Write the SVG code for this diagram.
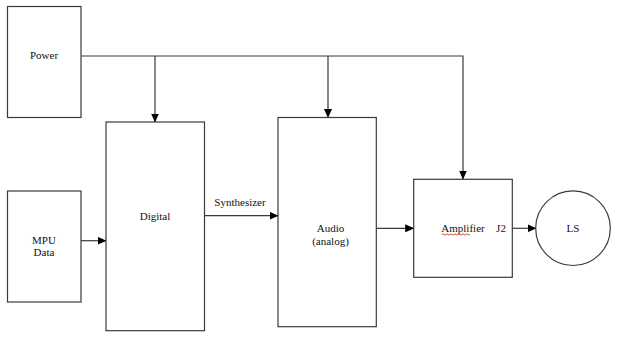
<svg xmlns="http://www.w3.org/2000/svg" width="623" height="345" viewBox="0 0 623 345">
<style>
.box{fill:#fff;stroke:#3a3a3a;stroke-width:1.2}
.ln{fill:none;stroke:#3a3a3a;stroke-width:1.2}
text{font-family:"Liberation Serif","Times New Roman",serif;font-size:11px;fill:#111;text-anchor:middle}
</style>
<defs>
<marker id="ah" markerWidth="9" markerHeight="8" refX="8.5" refY="4" orient="auto" markerUnits="userSpaceOnUse">
<path d="M0,0 L9,4 L0,8 Z" fill="#000"/>
</marker>
</defs>
<rect width="623" height="345" fill="#fff"/>
<g id="connectors">
<path class="ln" d="M81,56 H463 V179" marker-end="url(#ah)"/>
<path class="ln" d="M155,56 V122" marker-end="url(#ah)"/>
<path class="ln" d="M328,56 V117.5" marker-end="url(#ah)"/>
<path class="ln" d="M81,240.7 H106" marker-end="url(#ah)"/>
<path class="ln" d="M204.5,215.7 H278" marker-end="url(#ah)"/>
<path class="ln" d="M376.3,228.3 H413.7" marker-end="url(#ah)"/>
<path class="ln" d="M512.3,228.3 H536" marker-end="url(#ah)"/>
<text x="240" y="206">Synthesizer</text>
</g>
<g id="power"><rect class="box" x="7.5" y="6.5" width="73.5" height="111"/><text x="44" y="59">Power</text></g>
<g id="mpu"><rect class="box" x="7.5" y="191" width="73.5" height="111"/><text x="44" y="244">MPU</text><text x="44" y="256">Data</text></g>
<g id="digital"><rect class="box" x="106" y="122" width="98.5" height="208.7"/><text x="155" y="219.5">Digital</text></g>
<g id="audio"><rect class="box" x="278" y="117.5" width="98.3" height="209.2"/><text x="330.5" y="232">Audio</text><text x="330.5" y="245">(analog)</text></g>
<g id="amplifier"><rect class="box" x="413.7" y="179.3" width="98.6" height="98"/><text x="463" y="232">Amplifier</text>
<path d="M442,234.5 q1,-1.2 2,0 t2,0 t2,0 t2,0 t2,0 t2,0 t2,0 t2,0 t2,0 t2,0 t2,0 t2,0 t2,0 t2,0" fill="none" stroke="#d02020" stroke-width="0.8"/>
<text x="501" y="232">J2</text></g>
<g id="ls"><circle class="box" cx="573" cy="228.2" r="37.3"/><text x="573" y="232">LS</text></g>
</svg>
